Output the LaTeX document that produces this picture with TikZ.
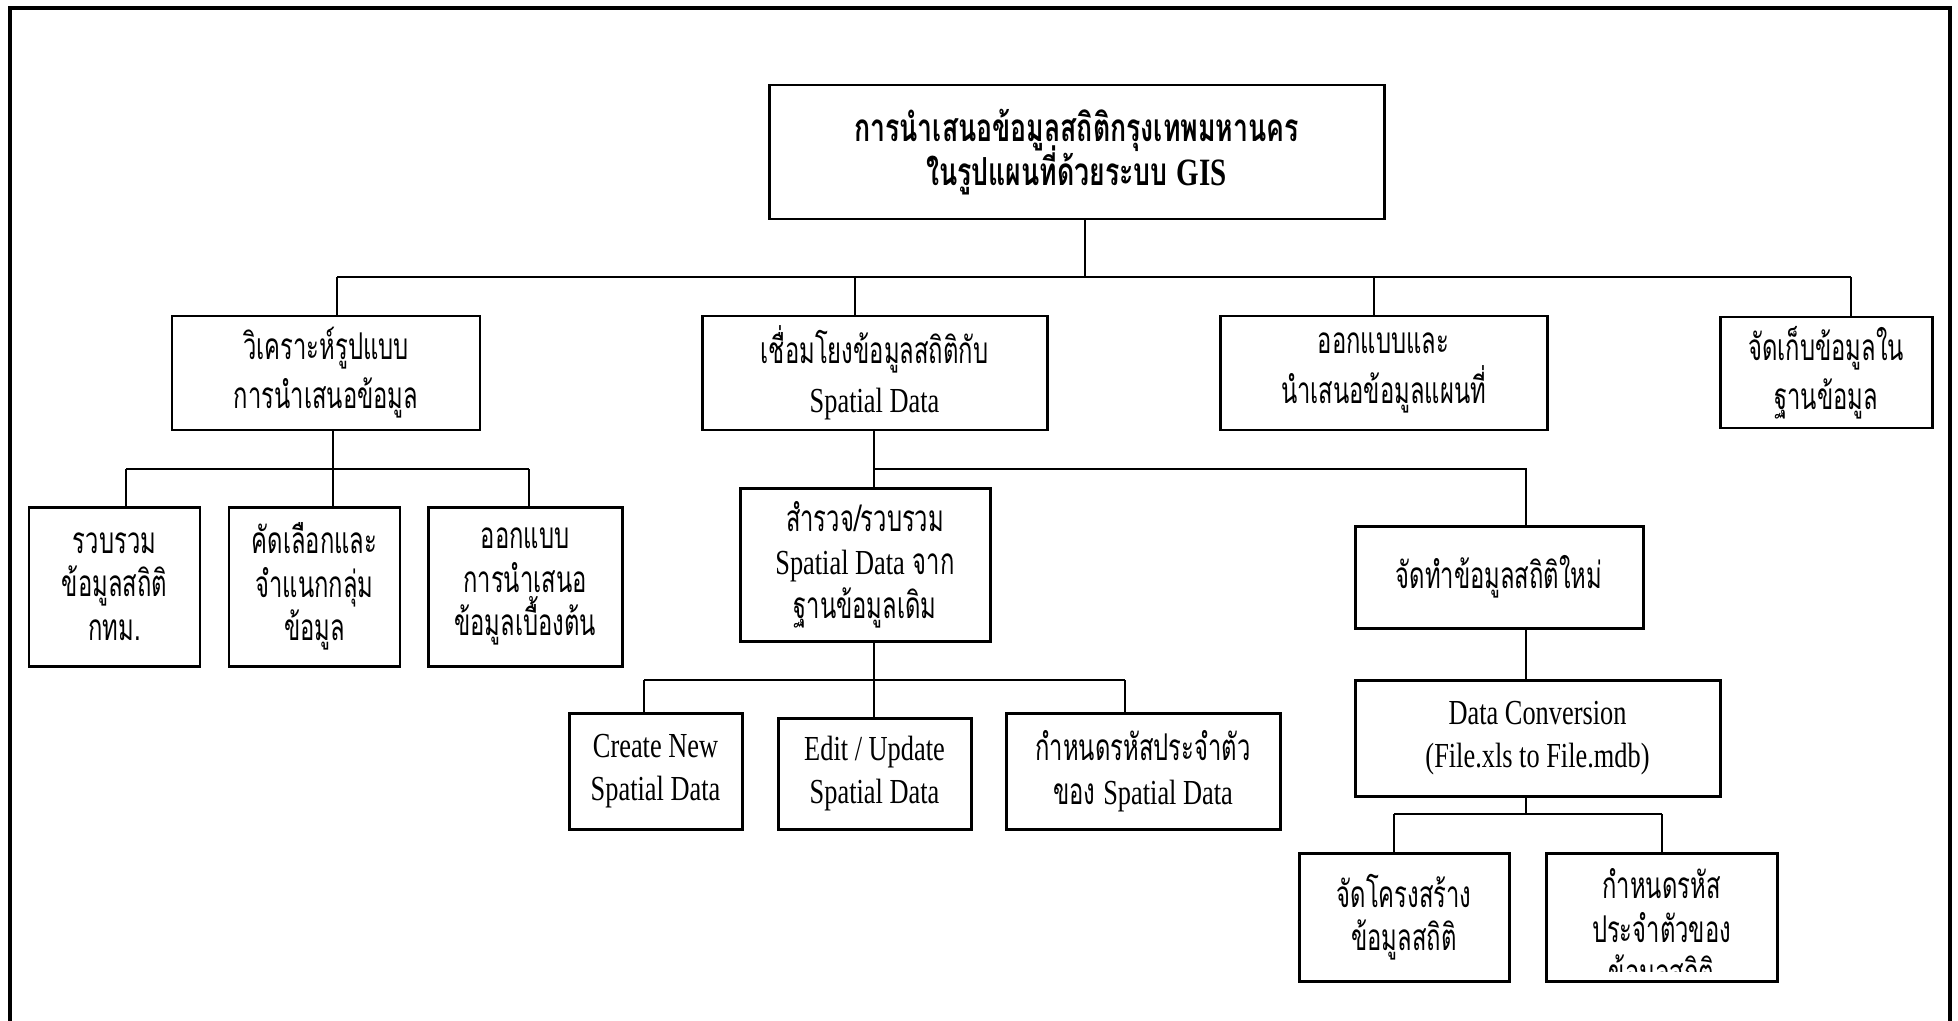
\documentclass[tikz,border=0pt]{standalone}
\usepackage{fontspec}
\setmainfont{Loma}[Script=Thai,FakeStretch=0.645,BoldFeatures={FakeStretch=0.69}]
\newfontfamily\latfont{Liberation Serif}[FakeStretch=0.75]
\newcommand{\en}[1]{{\latfont\fontsize{10}{12.4}\selectfont #1}}
\newcommand{\tightlines}{\lineskiplimit-20pt\relax}
\tikzstyle{box}=[draw, line width=0.85pt, inner sep=0pt, align=center, font=\fontsize{10.5}{12.4}\selectfont\tightlines]
\tikzstyle{wide}=[font=\fontsize{10.5}{14}\selectfont\tightlines]
\tikzstyle{link}=[line width=0.6pt]

\begin{document}
\begin{tikzpicture}[x=0.1mm, y=-0.1mm]
\useasboundingbox (0,0) rectangle (1958,1021);
\draw[line width=1.1pt] (10,1021) -- (10,8) -- (1950,8) -- (1950,1021);
% top
\node[box, font=\bfseries\fontsize{11}{12.4}\selectfont\tightlines, minimum width=61.5mm, minimum height=13.4mm] (gis) at (1076.5,152) {การนำเสนอข้อมูลสถิติกรุงเทพมหานคร\\ในรูปแผนที่ด้วยระบบ {\latfont\bfseries GIS}};
% level 1
\node[box, wide, minimum width=30.8mm, minimum height=11.4mm] (anal) at (326,373) {วิเคราะห์รูปแบบ\\การนำเสนอข้อมูล};
\node[box, wide, minimum width=34.5mm, minimum height=11.4mm] (join) at (874.5,373) {เชื่อมโยงข้อมูลสถิติกับ\\\en{Spatial Data}};
\node[box, wide, minimum width=32.7mm, minimum height=11.4mm] (map) at (1383.5,373) {ออกแบบและ\\นำเสนอข้อมูลแผนที่};
\node[box, wide, minimum width=21.2mm, minimum height=11.1mm] (store) at (1826,372.5) {จัดเก็บข้อมูลใน\\ฐานข้อมูล};
% level 2, left
\node[box, minimum width=17.1mm, minimum height=15.9mm] (col) at (114.5,586.5) {รวบรวม\\ข้อมูลสถิติ\\กทม.};
\node[box, minimum width=17.1mm, minimum height=15.9mm] (sel) at (314.5,586.5) {คัดเลือกและ\\จำแนกกลุ่ม\\ข้อมูล};
\node[box, minimum width=19.4mm, minimum height=15.9mm] (des) at (525,586.5) {ออกแบบ\\การนำเสนอ\\ข้อมูลเบื้องต้น};
% level 2, middle
\node[box, minimum width=25mm, minimum height=15.3mm] (srv) at (865,564.5) {สำรวจ/รวบรวม\\\en{Spatial Data} จาก\\ฐานข้อมูลเดิม};
\node[box, minimum width=28.8mm, minimum height=10.2mm] (new) at (1499,577) {จัดทำข้อมูลสถิติใหม่};
\node[box, minimum width=17.3mm, minimum height=11.6mm] (cre) at (655.5,771) {\en{Create New}\\\en{Spatial Data}};
\node[box, minimum width=19.3mm, minimum height=11.1mm] (edt) at (874.5,773.5) {\en{Edit / Update}\\\en{Spatial Data}};
\node[box, minimum width=27.4mm, minimum height=11.6mm] (cod) at (1143,771) {กำหนดรหัสประจำตัว\\ของ \en{Spatial Data}};
% right branch
\node[box, minimum width=36.5mm, minimum height=11.6mm] (conv) at (1537.5,738) {\en{Data Conversion}\\\en{(File.xls to File.mdb)}};
\node[box, minimum width=21mm, minimum height=12.8mm] (str) at (1404,917) {จัดโครงสร้าง\\ข้อมูลสถิติ};
\node[box, minimum width=23.1mm, minimum height=12.8mm] (cid) at (1661.5,917) {};
\begin{scope}
\clip (1546,853) rectangle (1777,971);
\node[box, draw=none] at (1661.5,932) {กำหนดรหัส\\ประจำตัวของ\\ข้อมูลสถิติ};
\end{scope}
% connectors
\draw[link] (1085,0 |- gis.south) -- (1085,277);
\draw[link] (337,277) -- (1851,277);
\foreach \n/\x in {anal/337,join/855,map/1374,store/1851}
  \draw[link] (\x,277) -- (\x,0 |- \n.north);
\draw[link] (333,0 |- anal.south) -- (333,469);
\draw[link] (126,469) -- (529,469);
\foreach \n/\x in {col/126,sel/333,des/529}
  \draw[link] (\x,469) -- (\x,0 |- \n.north);
\draw[link] (874,0 |- join.south) -- (874,0 |- srv.north);
\draw[link] (874,469) -- (1526,469) -- (1526,0 |- new.north);
\draw[link] (874,0 |- srv.south) -- (874,680);
\draw[link] (644,680) -- (1125,680);
\foreach \n/\x in {cre/644,edt/874,cod/1125}
  \draw[link] (\x,680) -- (\x,0 |- \n.north);
\draw[link] (1526,0 |- new.south) -- (1526,0 |- conv.north);
\draw[link] (1526,0 |- conv.south) -- (1526,814);
\draw[link] (1394,814) -- (1662,814);
\foreach \n/\x in {str/1394,cid/1662}
  \draw[link] (\x,814) -- (\x,0 |- \n.north);
\end{tikzpicture}
\end{document}
